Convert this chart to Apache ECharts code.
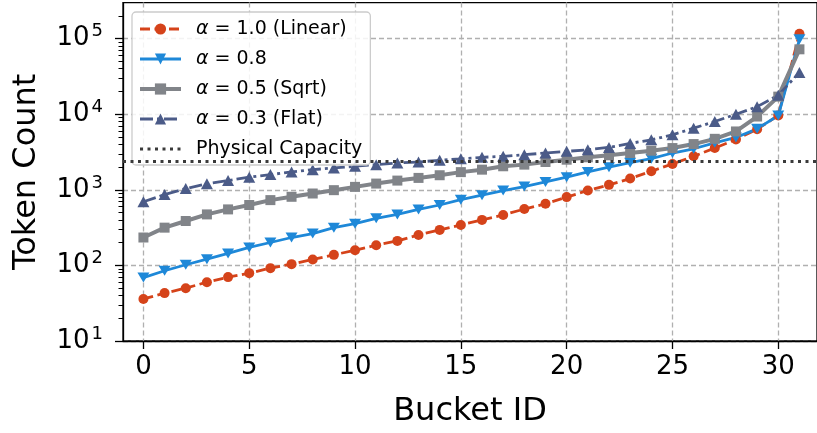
<!DOCTYPE html>
<html lang="en">
<head>
    <meta charset="UTF-8">
    <script src="https://cdn.jsdelivr.net/npm/echarts@6.0.0/dist/echarts.min.js"></script>
    <title>Token count per bucket</title>
    <style>
        html, body { margin: 0; padding: 0; background: #fff; }
        #chart { width: 817px; height: 433px; }
    </style>
</head>
<body>
    <div id="chart"></div>
    <script>
        // bucket ids on x
        const buckets = [0, 1, 2, 3, 4, 5, 6, 7, 8, 9, 10, 11, 12, 13, 14, 15,
            16, 17, 18, 19, 20, 21, 22, 23, 24, 25, 26, 27, 28, 29, 30, 31];

        // token counts
        const alphaLinear = [36, 43, 50, 60, 70, 79, 92, 104, 120, 138, 159, 185, 211, 253, 295, 343,
            400, 465, 557, 654, 801, 979, 1164, 1409, 1762, 2198, 2775, 3570, 4650, 6350, 9620, 116000];
        const alpha08 = [69, 85, 102, 121, 144, 173, 201, 234, 264, 316, 357, 420, 473, 551, 630, 740,
            851, 979, 1106, 1274, 1469, 1726, 1991, 2288, 2581, 3070, 3495, 4190, 4930, 6410, 9620, 98000];
        const alphaSqrt = [234, 316, 387, 473, 551, 630, 731, 809, 894, 990, 1094, 1210, 1325, 1438, 1560, 1715,
            1849, 2050, 2155, 2336, 2505, 2693, 2864, 3070, 3295, 3570, 4030, 4730, 5920, 9330, 17100, 72300];
        const alphaFlat = [695, 867, 1040, 1199, 1325, 1469, 1590, 1726, 1849, 1946, 2050, 2155, 2266, 2336, 2459, 2570,
            2693, 2775, 2916, 3070, 3230, 3390, 3645, 4110, 4590, 5340, 6540, 8010, 10000, 12600, 17900, 35700];
        const capacity = 2380;

        // ticks
        const xTicks = [0, 5, 10, 15, 20, 25, 30];
        const yMajor = [10, 100, 1000, 10000, 100000];
        const yMinor = [20, 30, 40, 50, 60, 70, 80, 90,
            200, 300, 400, 500, 600, 700, 800, 900,
            2000, 3000, 4000, 5000, 6000, 7000, 8000, 9000,
            20000, 30000, 40000, 50000, 60000, 70000, 80000, 90000,
            200000];

        const font = 'DejaVu Sans';
        const gridLine = { type: [5, 3], color: '#b0b0b0', width: 1.3 };
        const capStyle = { color: '#3a3a3a', width: 3, type: [3, 4.5] };
        const pairs = arr => buckets.map((b, i) => [b, arr[i]]);
        const triDown = 'path://M0,0 L10,0 L5,10 Z';

        const chart = echarts.init(document.getElementById('chart'), null, { renderer: 'canvas' });
        chart.setOption({
            animation: false,
            backgroundColor: '#fff',
            grid: {
                left: 123, top: 2.6, width: 697, height: 341.4,
                show: true, borderColor: '#000', borderWidth: 1.3
            },
            legend: {
                orient: 'vertical',
                left: 132, top: 12,
                padding: [7, 8, 6, 6],
                itemWidth: 41, itemHeight: 14, itemGap: 10,
                backgroundColor: 'rgba(255,255,255,0.85)',
                borderColor: '#cccccc', borderWidth: 1.3, borderRadius: 4,
                lineStyle: { width: 'inherit' },
                data: [
                    'α = 1.0 (Linear)', 'α = 0.8', 'α = 0.5 (Sqrt)', 'α = 0.3 (Flat)',
                    { name: 'Physical Capacity', itemStyle: { opacity: 0 } }
                ],
                textStyle: {
                    fontFamily: font, fontSize: 19, color: '#000', lineHeight: 20,
                    rich: {
                        i: { fontFamily: font, fontSize: 19, fontStyle: 'italic', color: '#000', padding: [0, 0, 0, 10] },
                        n: { fontFamily: font, fontSize: 19, color: '#000', padding: [0, 0, 0, 10] }
                    }
                },
                formatter: name => name.startsWith('α') ? '{i|α}' + name.slice(1) : '{n|' + name + '}'
            },
            xAxis: {
                type: 'value', min: -0.965, max: 31.83,
                name: 'Bucket ID', nameLocation: 'middle', nameGap: 55,
                nameTextStyle: { fontFamily: font, fontSize: 32, color: '#000' },
                axisLine: { show: true, onZero: false, lineStyle: { color: '#000', width: 1.3 } },
                axisTick: { show: true, customValues: xTicks, length: 8, lineStyle: { color: '#000', width: 1.3 } },
                axisLabel: { customValues: xTicks, fontFamily: font, fontSize: 26, color: '#000', margin: 13 },
                splitLine: { show: true, lineStyle: gridLine }
            },
            yAxis: [{
                type: 'log', logBase: 10, min: 10, max: 300000,
                name: 'Token Count', nameLocation: 'middle', nameGap: 80,
                nameTextStyle: { fontFamily: font, fontSize: 32, color: '#000' },
                axisLine: { show: true, onZero: false, lineStyle: { color: '#000', width: 1.3 } },
                axisTick: { show: true, customValues: yMajor, length: 8, lineStyle: { color: '#000', width: 1.3 } },
                axisLabel: {
                    customValues: yMajor, margin: 20,
                    formatter: v => '{b|10}{s|' + Math.round(Math.log10(v)) + '}',
                    rich: {
                        b: { fontFamily: font, fontSize: 26, color: '#000', lineHeight: 26 },
                        s: { fontFamily: font, fontSize: 18, color: '#000', lineHeight: 18, padding: [0, 0, 14, 2] }
                    }
                },
                splitLine: { show: true, lineStyle: gridLine }
            }, {
                // minor ticks only
                type: 'log', logBase: 10, min: 10, max: 300000, position: 'left',
                axisLine: { show: false, onZero: false },
                axisTick: { show: true, customValues: yMinor, length: 4.5, lineStyle: { color: '#000', width: 1 } },
                axisLabel: { show: false },
                splitLine: { show: false }
            }],
            series: [{
                name: 'α = 1.0 (Linear)', type: 'line', data: pairs(alphaLinear),
                symbol: 'circle', symbolSize: 10,
                itemStyle: { color: '#d5431a' },
                lineStyle: { color: '#d5431a', width: 2.8, type: [10, 4.5] }
            }, {
                name: 'α = 0.8', type: 'line', data: pairs(alpha08),
                symbol: triDown, symbolSize: [12, 10],
                itemStyle: { color: '#1e88d8' },
                lineStyle: { color: '#1e88d8', width: 2.8 }
            }, {
                name: 'α = 0.5 (Sqrt)', type: 'line', data: pairs(alphaSqrt),
                symbol: 'rect', symbolSize: 10,
                itemStyle: { color: '#818489' },
                lineStyle: { color: '#818489', width: 4 }
            }, {
                name: 'α = 0.3 (Flat)', type: 'line', data: pairs(alphaFlat),
                symbol: 'triangle', symbolSize: [12, 11],
                itemStyle: { color: '#4b5b88' },
                lineStyle: { color: '#4b5b88', width: 2.8, type: [13, 4, 3, 4] }
            }, {
                name: 'Physical Capacity', type: 'line', data: [],
                symbol: 'none',
                itemStyle: { color: '#3a3a3a' },
                lineStyle: capStyle,
                markLine: {
                    silent: true, symbol: ['none', 'none'], label: { show: false },
                    lineStyle: capStyle,
                    data: [{ yAxis: capacity }]
                }
            }]
        });
    </script>
</body>
</html>
